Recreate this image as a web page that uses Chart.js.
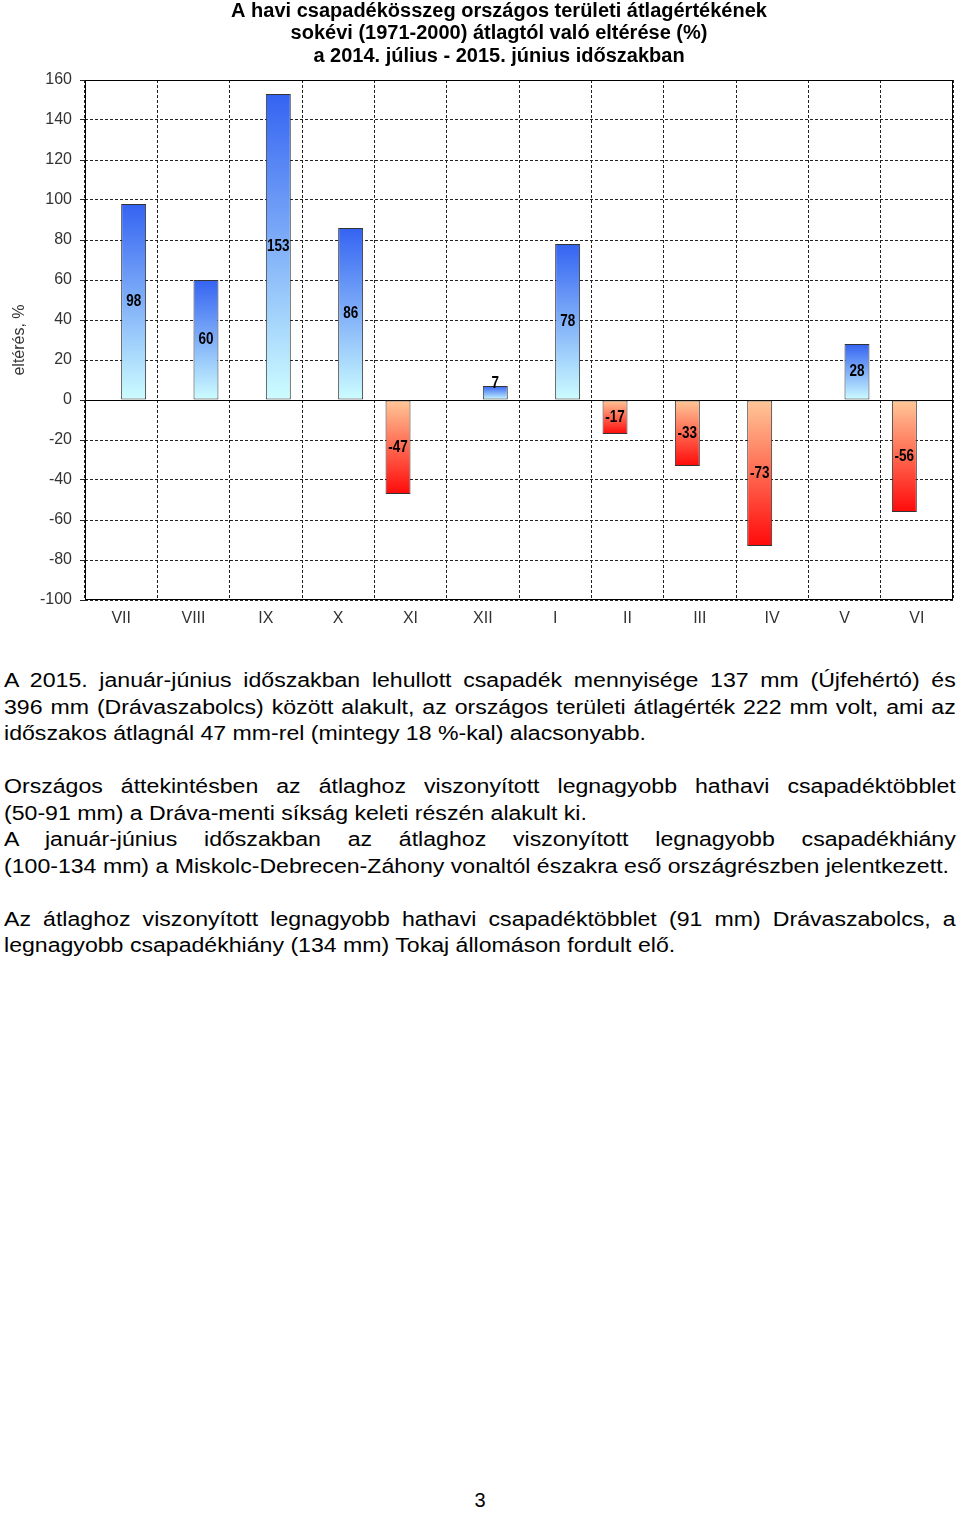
<!DOCTYPE html>
<html>
<head>
<meta charset="utf-8">
<script src="https://cdn.jsdelivr.net/npm/chart.js@4.4.0/dist/chart.umd.min.js"></script>
<style>
  html, body { margin: 0; padding: 0; background: #fff; }
  body { width: 960px; height: 1513px; position: relative; overflow: hidden; font-family: "Liberation Sans", Arial, sans-serif; }
  #chartWrap { position: absolute; left: 0; top: 0; width: 960px; height: 640px; }
  #text { position: absolute; left: 4px; top: 667px; width: 824px; font-size: 20px; line-height: 26.5px; color: #000; transform: scaleX(1.155); transform-origin: 0 0; }
  .j { text-align: justify; text-align-last: justify; white-space: nowrap; }
  .l { text-align: left; white-space: nowrap; }
  .gap { height: 26.5px; }
  #page { position: absolute; left: 0; width: 960px; top: 1489px; text-align: center; font-size: 20px; }
</style>
</head>
<body>
<div id="chartWrap"><canvas id="c" width="960" height="640"></canvas></div>
<div id="text">
  <div class="j">A 2015. január-június időszakban lehullott csapadék mennyisége 137 mm (Újfehértó) és</div>
  <div class="j">396 mm (Drávaszabolcs) között alakult, az országos területi átlagérték 222 mm volt, ami az</div>
  <div class="l">időszakos átlagnál 47 mm-rel (mintegy 18 %-kal) alacsonyabb.</div>
  <div class="gap"></div>
  <div class="j">Országos áttekintésben az átlaghoz viszonyított legnagyobb hathavi csapadéktöbblet</div>
  <div class="l">(50-91 mm) a Dráva-menti síkság keleti részén alakult ki.</div>
  <div class="j">A január-június időszakban az átlaghoz viszonyított legnagyobb csapadékhiány</div>
  <div class="l">(100-134 mm) a Miskolc-Debrecen-Záhony vonaltól északra eső országrészben jelentkezett.</div>
  <div class="gap"></div>
  <div class="j">Az átlaghoz viszonyított legnagyobb hathavi csapadéktöbblet (91 mm) Drávaszabolcs, a</div>
  <div class="l">legnagyobb csapadékhiány (134 mm) Tokaj állomáson fordult elő.</div>
</div>
<div id="page">3</div>
<script>
const months = ["VII", "VIII", "IX", "X", "XI", "XII", "I", "II", "III", "IV", "V", "VI"];
const deficit = [null, null, null, null, -47, null, null, -17, -33, -73, null, -56];
const surplus = [98, 60, 153, 86, null, 7, 78, null, null, null, 28, null];
const yTicks = { min: -100, max: 160, step: 20 };
const titleLines = [
  "A havi csapadékösszeg országos területi átlagértékének",
  "sokévi (1971-2000) átlagtól való eltérése (%)",
  "a 2014. július - 2015. június időszakban"
];
const yTitle = "eltérés, %";

function barGradient(ctx, topColor, bottomColor) {
  const chart = ctx.chart;
  const area = chart.chartArea;
  if (!area || ctx.type !== 'data' || ctx.raw == null) return topColor;
  const ys = chart.scales.y;
  const v = ctx.raw;
  const p0 = ys.getPixelForValue(0);
  const p1 = ys.getPixelForValue(v);
  const top = Math.min(p0, p1), bot = Math.max(p0, p1);
  const g = chart.ctx.createLinearGradient(0, top, 0, bot);
  g.addColorStop(0, topColor);
  g.addColorStop(1, bottomColor);
  return g;
}

const decor = {
  id: 'decor',
  beforeDatasetsDraw(chart) {
    const { ctx, chartArea: a, scales } = chart;
    ctx.save();
    ctx.strokeStyle = '#000';
    ctx.lineWidth = 1;
    ctx.setLineDash([]);
    ctx.strokeRect(Math.round(a.left) + 0.5, Math.round(a.top) + 0.5, Math.round(a.right - a.left) - 1, Math.round(a.bottom - a.top) - 1);
    const y0 = Math.round(scales.y.getPixelForValue(0)) + 0.5;
    ctx.beginPath(); ctx.moveTo(a.left, y0); ctx.lineTo(a.right, y0); ctx.stroke();
    ctx.restore();
  },
  afterDatasetsDraw(chart) {
    const { ctx } = chart;
    ctx.save();
    ctx.font = 'bold 15px "Liberation Sans", Arial, sans-serif';
    ctx.fillStyle = '#000';
    ctx.textAlign = 'center';
    ctx.textBaseline = 'middle';
    chart.data.datasets.forEach((ds, di) => {
      const meta = chart.getDatasetMeta(di);
      meta.data.forEach((el, i) => {
        const v = ds.data[i];
        if (v == null) return;
        const top = Math.min(el.y, el.base), bot = Math.max(el.y, el.base);
        let y = (top + bot) / 2;
        if (bot - top < 20) y = top - 2;
        ctx.save();
        ctx.translate(el.x, y);
        ctx.scale(0.9, 1.05);
        ctx.fillText(String(v), 0, 0);
        ctx.restore();
      });
    });
    ctx.restore();
  },
  afterDraw(chart) {
    const { ctx } = chart;
    ctx.save();
    ctx.fillStyle = '#000';
    ctx.textAlign = 'center';
    ctx.textBaseline = 'middle';
    ctx.font = 'bold 20px "Liberation Sans Narrow", "Arial Narrow", "Liberation Sans", sans-serif';
    const ys = [11, 33, 56];
    titleLines.forEach((t, i) => ctx.fillText(t, 499, ys[i]));
    ctx.translate(20, 340);
    ctx.rotate(-Math.PI / 2);
    ctx.font = '16px "Liberation Sans", Arial, sans-serif';
    ctx.fillStyle = '#333';
    ctx.fillText(yTitle, 0, 0);
    ctx.restore();
  }
};

new Chart(document.getElementById('c'), {
  type: 'bar',
  data: {
    labels: months,
    datasets: [
      {
        label: 'hiány',
        data: deficit,
        backgroundColor: (c) => barGradient(c, '#ffc898', '#ff0a0a'),
        borderColor: '#333',
        borderWidth: 1,
        borderSkipped: false
      },
      {
        label: 'többlet',
        data: surplus,
        backgroundColor: (c) => barGradient(c, '#3463f2', '#cdfdff'),
        borderColor: '#333',
        borderWidth: 1,
        borderSkipped: false
      }
    ]
  },
  options: {
    responsive: false,
    animation: false,
    events: [],
    layout: { padding: { left: 0, right: 7, top: 80, bottom: 0 } },
    plugins: { legend: { display: false }, tooltip: { enabled: false }, title: { display: false } },
    datasets: { bar: { categoryPercentage: 0.69, barPercentage: 1.0, skipNull: false } },
    scales: {
      x: {
        afterFit: (s) => { s.height = 40; },
        grid: { offset: true, color: '#222', lineWidth: 1, drawTicks: false },
        border: { display: false, dash: [3, 2] },
        ticks: { padding: 9, color: '#333', font: { size: 16, family: '"Liberation Sans", Arial, sans-serif' } }
      },
      y: {
        min: yTicks.min,
        max: yTicks.max,
        afterFit: (s) => { s.width = 85; },
        grid: { color: '#222', lineWidth: 1, tickLength: 5 },
        border: { display: false, dash: [3, 2] },
        ticks: { stepSize: yTicks.step, padding: 8, color: '#333', font: { size: 16, family: '"Liberation Sans", Arial, sans-serif' } }
      }
    }
  },
  plugins: [decor]
});
</script>
</body>
</html>
